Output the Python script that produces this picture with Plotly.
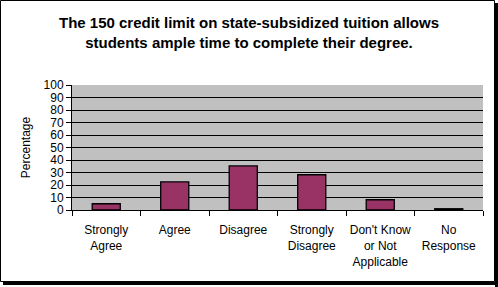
import plotly.graph_objects as go

categories = ["Strongly<br>Agree", "Agree", "Disagree", "Strongly<br>Disagree",
              "Don't Know<br>or Not<br>Applicable", "No<br>Response"]
values = [5, 22.5, 35.3, 28.2, 8.2, 1]
y_ticks = list(range(0, 101, 10))

W, H = 498, 287
L, R, T, B = 72, 15, 85, 77
pw, ph = W - L - R, H - T - B

def px(x):
    return (x - L) / pw

def py(y):
    return (H - B - y) / ph

fig = go.Figure()
fig.add_trace(go.Bar(
    x=categories, y=values,
    marker=dict(color="#993366", line=dict(color="black", width=1.3)),
    width=0.41,
))

font = "Liberation Sans, Arial, sans-serif"
fig.update_layout(
    width=W, height=H,
    margin=dict(l=L, r=R, t=T, b=B),
    paper_bgcolor="white",
    plot_bgcolor="#C0C0C0",
    showlegend=False,
    font=dict(family=font, size=12, color="black"),
    title=dict(
        text="<b>The 150 credit limit on state-subsidized tuition allows<br>students ample time to complete their degree.</b>",
        x=0.5, xanchor="center", y=1 - 28 / H, yanchor="middle",
        font=dict(family=font, size=15, color="black"),
    ),
    xaxis=dict(
        showline=True, linecolor="black", linewidth=1,
        ticks="outside", tickson="boundaries", ticklen=5, tickcolor="black",
        showgrid=False, mirror=False,
        tickfont=dict(size=12), tickangle=0, automargin=False,
        ticklabelstandoff=9,
    ),
    yaxis=dict(
        range=[0, 100], tickvals=y_ticks,
        showline=True, linecolor="black", linewidth=1,
        ticks="outside", ticklen=5, tickcolor="black",
        showgrid=True, gridcolor="black", gridwidth=1,
        zeroline=False, automargin=False,
        title=dict(text="Percentage", font=dict(size=12), standoff=10),
        tickfont=dict(size=12),
    ),
    shapes=[
        dict(type="rect", xref="paper", yref="paper",
             x0=px(0.5), x1=px(494.5), y0=py(281.5), y1=py(0.5),
             line=dict(color="black", width=1), fillcolor="rgba(0,0,0,0)", layer="above"),
        dict(type="rect", xref="paper", yref="paper",
             x0=px(495), x1=px(498), y0=py(287), y1=py(3),
             line=dict(width=0), fillcolor="black", layer="above"),
        dict(type="rect", xref="paper", yref="paper",
             x0=px(3), x1=px(498), y0=py(285), y1=py(282),
             line=dict(width=0), fillcolor="black", layer="above"),
    ],
)

fig.write_html("out.html")
